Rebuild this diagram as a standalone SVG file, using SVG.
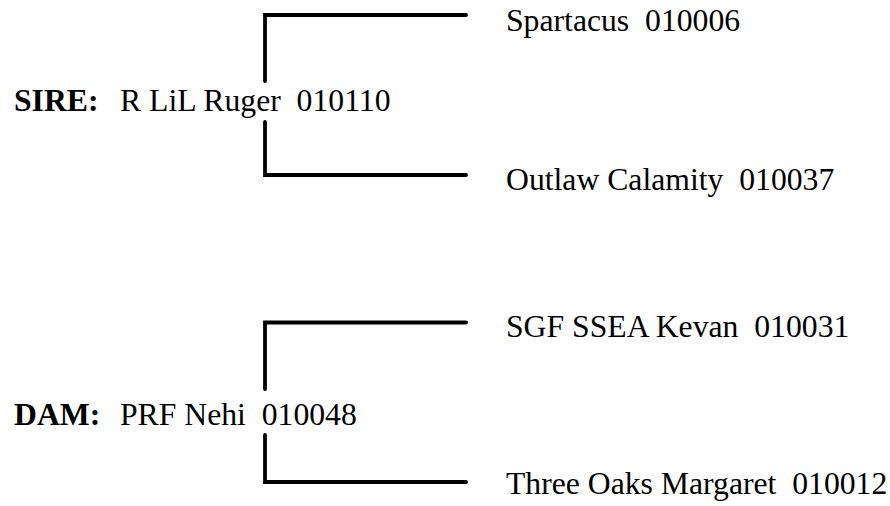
<svg xmlns="http://www.w3.org/2000/svg" width="890" height="506" viewBox="0 0 890 506">
<style>
text{font-family:"Liberation Serif","Times New Roman",serif;font-size:31.7px;fill:#000;white-space:pre}
.b{font-weight:bold}
.c{fill:none;stroke:#000;stroke-width:3.8;stroke-linecap:round;stroke-linejoin:miter}
</style>
<rect width="890" height="506" fill="#fff"/>
<g id="connectors">
<path class="c" d="M466,15 H265 V81"/>
<path class="c" d="M265,122 V175 H466"/>
<path class="c" d="M466,322.5 H265 V389"/>
<path class="c" d="M265,435 V482 H466"/>
</g>
<g id="sire"><text x="14" y="111"><tspan class="b">SIRE:</tspan></text><text x="120" y="111">R LiL Ruger  010110</text></g>
<g id="sire-sire"><text x="506" y="31">Spartacus  010006</text></g>
<g id="sire-dam"><text x="506" y="190">Outlaw Calamity  010037</text></g>
<g id="dam"><text x="14" y="425"><tspan class="b">DAM:</tspan></text><text x="120" y="425">PRF Nehi  010048</text></g>
<g id="dam-sire"><text x="506" y="337">SGF SSEA Kevan  010031</text></g>
<g id="dam-dam"><text x="506" y="494">Three Oaks Margaret  010012</text></g>
</svg>
